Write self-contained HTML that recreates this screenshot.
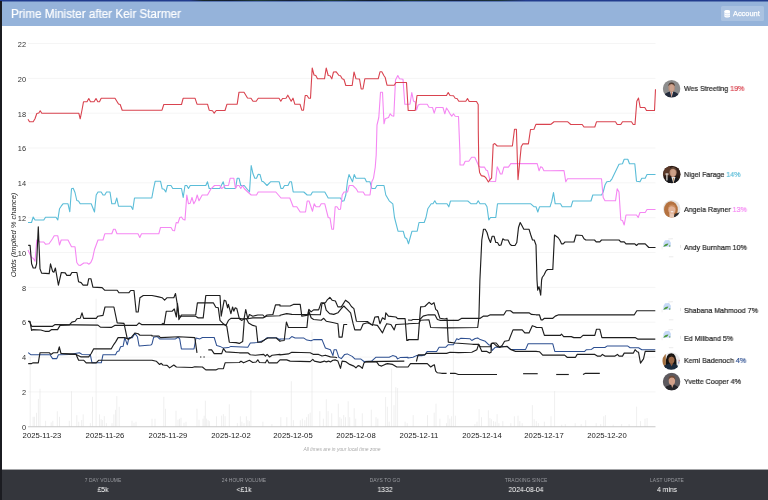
<!DOCTYPE html>
<html><head><meta charset="utf-8"><title>Prime Minister after Keir Starmer</title>
<style>
html,body{margin:0;padding:0;}
body{width:768px;height:500px;overflow:hidden;background:#fff;position:relative;font-family:"Liberation Sans",sans-serif;}
.abs{position:absolute}
.lg,.yl,.xl,#ytitle,#tz,#title,#acct span,.fl,.fv{will-change:transform;}
#topstrip{position:absolute;left:0;top:0;width:768px;height:2.4px;background:linear-gradient(#203a8c 0%,#223d8e 50%,#95b3da 100%);}
#hdr{position:absolute;left:0;top:2px;width:768px;height:24px;background:#95b3da;}
#lb{position:absolute;left:0;top:1px;width:2px;height:499px;background:#1b1c21;}
#title,#acct svg,#acct span,.fl,.fv{filter:blur(0.3px);}
#title{position:absolute;left:11px;top:7.1px;color:#fff;font-size:12px;line-height:14px;white-space:nowrap;transform:scaleX(0.973);transform-origin:left center;-webkit-text-stroke:0.2px #fff;}
#acct{position:absolute;left:720.5px;top:6.3px;width:43px;height:15.1px;background:rgba(255,255,255,0.2);border-radius:1.5px;}
#acct span{position:absolute;left:12.8px;top:3.2px;color:#fff;font-size:7.4px;line-height:9px;-webkit-text-stroke:0.25px #fff;}
.yl{position:absolute;left:0;width:26px;text-align:right;font-size:7.4px;line-height:10px;color:#333;}
.xl{position:absolute;top:431px;width:60px;text-align:center;font-size:7.7px;line-height:10px;color:#222;}
#ytitle{position:absolute;left:-36px;top:230px;width:100px;text-align:center;font-size:7.55px;line-height:10px;color:#222;font-style:italic;transform:rotate(-90deg);white-space:nowrap;}
.lg{position:absolute;left:684px;font-size:7.6px;line-height:12px;color:#1c1c1c;white-space:nowrap;-webkit-text-stroke:0.2px currentColor;transform:scaleX(0.93);transform-origin:left center;}
#tz{position:absolute;left:282px;top:445.5px;width:120px;text-align:center;font-size:4.92px;line-height:7px;color:#aaa;font-style:italic;}
#foot{position:absolute;left:0;top:470px;width:768px;height:30px;background:#34363c;}
.fc{position:absolute;top:0;width:120px;height:30px;text-align:center;}
.fl{position:absolute;left:0;width:120px;top:7px;font-size:4.9px;line-height:8px;color:#9a9ca1;letter-spacing:0.08px;}
.fv{position:absolute;left:0;width:120px;top:14px;font-size:7.5px;line-height:12px;color:#fff;transform:scaleX(0.91);}
</style></head><body>
<div id="hdr"></div><div id="topstrip"></div><div style="position:absolute;left:190px;top:0;width:335px;height:1.1px;background:linear-gradient(90deg,#22398a 0%,#16251e 4%,#101a2a 12%,#1c3a2a 20%,#131c33 30%,#1f3d30 42%,#0f1728 55%,#1b3526 66%,#141f3a 80%,#1a3328 92%,#22398a 100%);opacity:0.9"></div>
<div id="title">Prime Minister after Keir Starmer</div>
<div id="acct"><svg class="abs" style="left:3.3px;top:3.9px" width="6.6" height="7.6" viewBox="0 0 6 8" preserveAspectRatio="none"><path d="M0.3 1.4C0.3 0.6 1.5 0.1 3 0.1S5.7 0.6 5.7 1.4V6.5C5.7 7.3 4.5 7.9 3 7.9S0.3 7.3 0.3 6.5Z" fill="#fff"/><path d="M0.3 3.1C1 3.8 2 4 3 4S5 3.8 5.7 3.1M0.3 5.3C1 6 2 6.2 3 6.2S5 6 5.7 5.3" stroke="#a9c2e3" stroke-width="0.45" fill="none"/></svg><span>Account</span></div>
<div id="chart" style="position:absolute;left:0;top:0;width:768px;height:500px;filter:blur(0.33px)">
<div class="yl" style="top:423px">0</div><div class="yl" style="top:388px">2</div><div class="yl" style="top:353px">4</div><div class="yl" style="top:318px">6</div><div class="yl" style="top:284px">8</div><div class="yl" style="top:249px">10</div><div class="yl" style="top:214px">12</div><div class="yl" style="top:179px">14</div><div class="yl" style="top:144px">16</div><div class="yl" style="top:110px">18</div><div class="yl" style="top:75px">20</div><div class="yl" style="top:40px">22</div><div class="xl" style="left:12px">2025-11-23</div><div class="xl" style="left:75px">2025-11-26</div><div class="xl" style="left:138px">2025-11-29</div><div class="xl" style="left:201px">2025-12-02</div><div class="xl" style="left:263px">2025-12-05</div><div class="xl" style="left:326px">2025-12-08</div><div class="xl" style="left:389px">2025-12-11</div><div class="xl" style="left:452px">2025-12-14</div><div class="xl" style="left:514px">2025-12-17</div><div class="xl" style="left:577px">2025-12-20</div>
<div id="ytitle">Odds (Implied % chance)</div>
<svg class="abs" style="left:0;top:0" width="768" height="500" viewBox="0 0 768 500">
<line x1="28" x2="655.5" y1="391.91" y2="391.91" stroke="#f5f5f5" stroke-width="1"/>
<line x1="28" x2="655.5" y1="357.07" y2="357.07" stroke="#f5f5f5" stroke-width="1"/>
<line x1="28" x2="655.5" y1="322.23" y2="322.23" stroke="#f5f5f5" stroke-width="1"/>
<line x1="28" x2="655.5" y1="287.39" y2="287.39" stroke="#f5f5f5" stroke-width="1"/>
<line x1="28" x2="655.5" y1="252.55" y2="252.55" stroke="#f5f5f5" stroke-width="1"/>
<line x1="28" x2="655.5" y1="217.71" y2="217.71" stroke="#f5f5f5" stroke-width="1"/>
<line x1="28" x2="655.5" y1="182.87" y2="182.87" stroke="#f5f5f5" stroke-width="1"/>
<line x1="28" x2="655.5" y1="148.03" y2="148.03" stroke="#f5f5f5" stroke-width="1"/>
<line x1="28" x2="655.5" y1="113.19" y2="113.19" stroke="#f5f5f5" stroke-width="1"/>
<line x1="28" x2="655.5" y1="78.35" y2="78.35" stroke="#f5f5f5" stroke-width="1"/>
<line x1="28" x2="655.5" y1="43.51" y2="43.51" stroke="#f5f5f5" stroke-width="1"/>
<line x1="30.2" x2="30.2" y1="426.75" y2="356.8" stroke="#e4e4e4" stroke-width="0.6"/>
<line x1="33.1" x2="33.1" y1="426.75" y2="416.8" stroke="#e4e4e4" stroke-width="0.6"/>
<line x1="34.4" x2="34.4" y1="426.75" y2="416.8" stroke="#e4e4e4" stroke-width="0.6"/>
<line x1="36.5" x2="36.5" y1="426.75" y2="412.8" stroke="#e4e4e4" stroke-width="0.6"/>
<line x1="38.4" x2="38.4" y1="426.75" y2="399.2" stroke="#e4e4e4" stroke-width="0.6"/>
<line x1="40.0" x2="40.0" y1="426.75" y2="388.8" stroke="#e4e4e4" stroke-width="0.6"/>
<line x1="45.6" x2="45.6" y1="426.75" y2="420.8" stroke="#e4e4e4" stroke-width="0.6"/>
<line x1="51.2" x2="51.2" y1="426.75" y2="422.4" stroke="#e4e4e4" stroke-width="0.6"/>
<line x1="52.8" x2="52.8" y1="426.75" y2="420.8" stroke="#e4e4e4" stroke-width="0.6"/>
<line x1="57.3" x2="57.3" y1="426.75" y2="411.2" stroke="#e4e4e4" stroke-width="0.6"/>
<line x1="59.5" x2="59.5" y1="426.75" y2="416.8" stroke="#e4e4e4" stroke-width="0.6"/>
<line x1="69.3" x2="69.3" y1="426.75" y2="420.8" stroke="#e4e4e4" stroke-width="0.6"/>
<line x1="71.5" x2="71.5" y1="426.75" y2="391.2" stroke="#e4e4e4" stroke-width="0.6"/>
<line x1="76.8" x2="76.8" y1="426.75" y2="415.2" stroke="#e4e4e4" stroke-width="0.6"/>
<line x1="78.7" x2="78.7" y1="426.75" y2="421.8" stroke="#e4e4e4" stroke-width="0.6"/>
<line x1="81.6" x2="81.6" y1="426.75" y2="420.1" stroke="#e4e4e4" stroke-width="0.6"/>
<line x1="83.2" x2="83.2" y1="426.75" y2="414.4" stroke="#e4e4e4" stroke-width="0.6"/>
<line x1="90.4" x2="90.4" y1="426.75" y2="423.2" stroke="#e4e4e4" stroke-width="0.6"/>
<line x1="92.5" x2="92.5" y1="426.75" y2="396.8" stroke="#e4e4e4" stroke-width="0.6"/>
<line x1="96.1" x2="96.1" y1="426.75" y2="298.8" stroke="#e4e4e4" stroke-width="0.6"/>
<line x1="99.5" x2="99.5" y1="426.75" y2="414.4" stroke="#e4e4e4" stroke-width="0.6"/>
<line x1="101.1" x2="101.1" y1="426.75" y2="419.2" stroke="#e4e4e4" stroke-width="0.6"/>
<line x1="102.4" x2="102.4" y1="426.75" y2="420.1" stroke="#e4e4e4" stroke-width="0.6"/>
<line x1="104.3" x2="104.3" y1="426.75" y2="416.1" stroke="#e4e4e4" stroke-width="0.6"/>
<line x1="106.4" x2="106.4" y1="426.75" y2="423.2" stroke="#e4e4e4" stroke-width="0.6"/>
<line x1="112.0" x2="112.0" y1="426.75" y2="423.2" stroke="#e4e4e4" stroke-width="0.6"/>
<line x1="113.9" x2="113.9" y1="426.75" y2="414.4" stroke="#e4e4e4" stroke-width="0.6"/>
<line x1="115.5" x2="115.5" y1="426.75" y2="409.8" stroke="#e4e4e4" stroke-width="0.6"/>
<line x1="116.8" x2="116.8" y1="426.75" y2="396.1" stroke="#e4e4e4" stroke-width="0.6"/>
<line x1="119.2" x2="119.2" y1="426.75" y2="406.8" stroke="#e4e4e4" stroke-width="0.6"/>
<line x1="132.0" x2="132.0" y1="426.75" y2="420.8" stroke="#e4e4e4" stroke-width="0.6"/>
<line x1="134.0" x2="134.0" y1="426.75" y2="422.8" stroke="#e4e4e4" stroke-width="0.6"/>
<line x1="136.0" x2="136.0" y1="426.75" y2="421.8" stroke="#e4e4e4" stroke-width="0.6"/>
<line x1="152.0" x2="152.0" y1="426.75" y2="418.8" stroke="#e4e4e4" stroke-width="0.6"/>
<line x1="155.0" x2="155.0" y1="426.75" y2="418.8" stroke="#e4e4e4" stroke-width="0.6"/>
<line x1="163.8" x2="163.8" y1="426.75" y2="396.8" stroke="#e4e4e4" stroke-width="0.6"/>
<line x1="165.5" x2="165.5" y1="426.75" y2="408.8" stroke="#e4e4e4" stroke-width="0.6"/>
<line x1="176.0" x2="176.0" y1="426.75" y2="410.8" stroke="#e4e4e4" stroke-width="0.6"/>
<line x1="178.0" x2="178.0" y1="426.75" y2="419.8" stroke="#e4e4e4" stroke-width="0.6"/>
<line x1="179.5" x2="179.5" y1="426.75" y2="418.8" stroke="#e4e4e4" stroke-width="0.6"/>
<line x1="181.0" x2="181.0" y1="426.75" y2="417.8" stroke="#e4e4e4" stroke-width="0.6"/>
<line x1="184.0" x2="184.0" y1="426.75" y2="422.8" stroke="#e4e4e4" stroke-width="0.6"/>
<line x1="186.0" x2="186.0" y1="426.75" y2="421.8" stroke="#e4e4e4" stroke-width="0.6"/>
<line x1="197.0" x2="197.0" y1="426.75" y2="408.8" stroke="#e4e4e4" stroke-width="0.6"/>
<line x1="199.0" x2="199.0" y1="426.75" y2="419.8" stroke="#e4e4e4" stroke-width="0.6"/>
<line x1="203.0" x2="203.0" y1="426.75" y2="418.7" stroke="#e4e4e4" stroke-width="0.6"/>
<line x1="204.2" x2="204.2" y1="426.75" y2="415.7" stroke="#e4e4e4" stroke-width="0.6"/>
<line x1="205.4" x2="205.4" y1="426.75" y2="400.7" stroke="#e4e4e4" stroke-width="0.6"/>
<line x1="206.6" x2="206.6" y1="426.75" y2="418.7" stroke="#e4e4e4" stroke-width="0.6"/>
<line x1="208.1" x2="208.1" y1="426.75" y2="420.2" stroke="#e4e4e4" stroke-width="0.6"/>
<line x1="209.3" x2="209.3" y1="426.75" y2="421.1" stroke="#e4e4e4" stroke-width="0.6"/>
<line x1="216.5" x2="216.5" y1="426.75" y2="416.3" stroke="#e4e4e4" stroke-width="0.6"/>
<line x1="221.6" x2="221.6" y1="426.75" y2="415.7" stroke="#e4e4e4" stroke-width="0.6"/>
<line x1="223.4" x2="223.4" y1="426.75" y2="414.2" stroke="#e4e4e4" stroke-width="0.6"/>
<line x1="225.1" x2="225.1" y1="426.75" y2="416.3" stroke="#e4e4e4" stroke-width="0.6"/>
<line x1="229.3" x2="229.3" y1="426.75" y2="404.3" stroke="#e4e4e4" stroke-width="0.6"/>
<line x1="237.4" x2="237.4" y1="426.75" y2="423.2" stroke="#e4e4e4" stroke-width="0.6"/>
<line x1="240.4" x2="240.4" y1="426.75" y2="416.3" stroke="#e4e4e4" stroke-width="0.6"/>
<line x1="241.9" x2="241.9" y1="426.75" y2="421.7" stroke="#e4e4e4" stroke-width="0.6"/>
<line x1="244.0" x2="244.0" y1="426.75" y2="423.2" stroke="#e4e4e4" stroke-width="0.6"/>
<line x1="246.4" x2="246.4" y1="426.75" y2="416.3" stroke="#e4e4e4" stroke-width="0.6"/>
<line x1="247.9" x2="247.9" y1="426.75" y2="420.2" stroke="#e4e4e4" stroke-width="0.6"/>
<line x1="249.4" x2="249.4" y1="426.75" y2="421.1" stroke="#e4e4e4" stroke-width="0.6"/>
<line x1="250.9" x2="250.9" y1="426.75" y2="390.2" stroke="#e4e4e4" stroke-width="0.6"/>
<line x1="262.9" x2="262.9" y1="426.75" y2="421.7" stroke="#e4e4e4" stroke-width="0.6"/>
<line x1="271.9" x2="271.9" y1="426.75" y2="424.1" stroke="#e4e4e4" stroke-width="0.6"/>
<line x1="280.8" x2="280.8" y1="426.75" y2="417.2" stroke="#e4e4e4" stroke-width="0.6"/>
<line x1="286.8" x2="286.8" y1="426.75" y2="417.2" stroke="#e4e4e4" stroke-width="0.6"/>
<line x1="291.3" x2="291.3" y1="426.75" y2="381.2" stroke="#e4e4e4" stroke-width="0.6"/>
<line x1="293.4" x2="293.4" y1="426.75" y2="420.2" stroke="#e4e4e4" stroke-width="0.6"/>
<line x1="300.3" x2="300.3" y1="426.75" y2="420.2" stroke="#e4e4e4" stroke-width="0.6"/>
<line x1="302.4" x2="302.4" y1="426.75" y2="418.7" stroke="#e4e4e4" stroke-width="0.6"/>
<line x1="304.8" x2="304.8" y1="426.75" y2="420.2" stroke="#e4e4e4" stroke-width="0.6"/>
<line x1="306.6" x2="306.6" y1="426.75" y2="417.2" stroke="#e4e4e4" stroke-width="0.6"/>
<line x1="308.4" x2="308.4" y1="426.75" y2="414.2" stroke="#e4e4e4" stroke-width="0.6"/>
<line x1="310.2" x2="310.2" y1="426.75" y2="412.7" stroke="#e4e4e4" stroke-width="0.6"/>
<line x1="312.0" x2="312.0" y1="426.75" y2="331.8" stroke="#e4e4e4" stroke-width="0.6"/>
<line x1="319.8" x2="319.8" y1="426.75" y2="411.2" stroke="#e4e4e4" stroke-width="0.6"/>
<line x1="323.4" x2="323.4" y1="426.75" y2="418.7" stroke="#e4e4e4" stroke-width="0.6"/>
<line x1="326.3" x2="326.3" y1="426.75" y2="399.2" stroke="#e4e4e4" stroke-width="0.6"/>
<line x1="328.1" x2="328.1" y1="426.75" y2="411.2" stroke="#e4e4e4" stroke-width="0.6"/>
<line x1="331.7" x2="331.7" y1="426.75" y2="413.3" stroke="#e4e4e4" stroke-width="0.6"/>
<line x1="338.3" x2="338.3" y1="426.75" y2="403.7" stroke="#e4e4e4" stroke-width="0.6"/>
<line x1="339.8" x2="339.8" y1="426.75" y2="417.2" stroke="#e4e4e4" stroke-width="0.6"/>
<line x1="341.3" x2="341.3" y1="426.75" y2="418.7" stroke="#e4e4e4" stroke-width="0.6"/>
<line x1="343.7" x2="343.7" y1="426.75" y2="415.1" stroke="#e4e4e4" stroke-width="0.6"/>
<line x1="345.5" x2="345.5" y1="426.75" y2="417.2" stroke="#e4e4e4" stroke-width="0.6"/>
<line x1="348.2" x2="348.2" y1="426.75" y2="401.3" stroke="#e4e4e4" stroke-width="0.6"/>
<line x1="349.7" x2="349.7" y1="426.75" y2="417.2" stroke="#e4e4e4" stroke-width="0.6"/>
<line x1="354.2" x2="354.2" y1="426.75" y2="408.2" stroke="#e4e4e4" stroke-width="0.6"/>
<line x1="355.7" x2="355.7" y1="426.75" y2="418.7" stroke="#e4e4e4" stroke-width="0.6"/>
<line x1="362.3" x2="362.3" y1="426.75" y2="413.3" stroke="#e4e4e4" stroke-width="0.6"/>
<line x1="371.3" x2="371.3" y1="426.75" y2="409.7" stroke="#e4e4e4" stroke-width="0.6"/>
<line x1="376.0" x2="376.0" y1="426.75" y2="417.2" stroke="#e4e4e4" stroke-width="0.6"/>
<line x1="377.8" x2="377.8" y1="426.75" y2="418.7" stroke="#e4e4e4" stroke-width="0.6"/>
<line x1="385.6" x2="385.6" y1="426.75" y2="397.1" stroke="#e4e4e4" stroke-width="0.6"/>
<line x1="387.4" x2="387.4" y1="426.75" y2="406.7" stroke="#e4e4e4" stroke-width="0.6"/>
<line x1="389.2" x2="389.2" y1="426.75" y2="421.7" stroke="#e4e4e4" stroke-width="0.6"/>
<line x1="391.6" x2="391.6" y1="426.75" y2="368.7" stroke="#e4e4e4" stroke-width="0.6"/>
<line x1="394.0" x2="394.0" y1="426.75" y2="405.2" stroke="#e4e4e4" stroke-width="0.6"/>
<line x1="395.8" x2="395.8" y1="426.75" y2="387.2" stroke="#e4e4e4" stroke-width="0.6"/>
<line x1="397.6" x2="397.6" y1="426.75" y2="388.1" stroke="#e4e4e4" stroke-width="0.6"/>
<line x1="405.1" x2="405.1" y1="426.75" y2="421.7" stroke="#e4e4e4" stroke-width="0.6"/>
<line x1="407.2" x2="407.2" y1="426.75" y2="423.2" stroke="#e4e4e4" stroke-width="0.6"/>
<line x1="413.2" x2="413.2" y1="426.75" y2="415.1" stroke="#e4e4e4" stroke-width="0.6"/>
<line x1="427.5" x2="427.5" y1="426.75" y2="415.1" stroke="#e4e4e4" stroke-width="0.6"/>
<line x1="434.2" x2="434.2" y1="426.75" y2="412.7" stroke="#e4e4e4" stroke-width="0.6"/>
<line x1="436.0" x2="436.0" y1="426.75" y2="403.7" stroke="#e4e4e4" stroke-width="0.6"/>
<line x1="439.9" x2="439.9" y1="426.75" y2="418.7" stroke="#e4e4e4" stroke-width="0.6"/>
<line x1="446.5" x2="446.5" y1="426.75" y2="423.2" stroke="#e4e4e4" stroke-width="0.6"/>
<line x1="448.0" x2="448.0" y1="426.75" y2="415.1" stroke="#e4e4e4" stroke-width="0.6"/>
<line x1="449.8" x2="449.8" y1="426.75" y2="418.7" stroke="#e4e4e4" stroke-width="0.6"/>
<line x1="451.6" x2="451.6" y1="426.75" y2="416.3" stroke="#e4e4e4" stroke-width="0.6"/>
<line x1="453.4" x2="453.4" y1="426.75" y2="318.7" stroke="#e4e4e4" stroke-width="0.6"/>
<line x1="455.4" x2="455.4" y1="426.75" y2="415.7" stroke="#e4e4e4" stroke-width="0.6"/>
<line x1="474.9" x2="474.9" y1="426.75" y2="424.1" stroke="#e4e4e4" stroke-width="0.6"/>
<line x1="477.0" x2="477.0" y1="426.75" y2="421.7" stroke="#e4e4e4" stroke-width="0.6"/>
<line x1="479.1" x2="479.1" y1="426.75" y2="409.1" stroke="#e4e4e4" stroke-width="0.6"/>
<line x1="481.5" x2="481.5" y1="426.75" y2="417.2" stroke="#e4e4e4" stroke-width="0.6"/>
<line x1="488.4" x2="488.4" y1="426.75" y2="410.3" stroke="#e4e4e4" stroke-width="0.6"/>
<line x1="489.9" x2="489.9" y1="426.75" y2="418.1" stroke="#e4e4e4" stroke-width="0.6"/>
<line x1="491.4" x2="491.4" y1="426.75" y2="419.3" stroke="#e4e4e4" stroke-width="0.6"/>
<line x1="493.5" x2="493.5" y1="426.75" y2="421.1" stroke="#e4e4e4" stroke-width="0.6"/>
<line x1="495.3" x2="495.3" y1="426.75" y2="421.7" stroke="#e4e4e4" stroke-width="0.6"/>
<line x1="497.1" x2="497.1" y1="426.75" y2="414.2" stroke="#e4e4e4" stroke-width="0.6"/>
<line x1="498.9" x2="498.9" y1="426.75" y2="423.2" stroke="#e4e4e4" stroke-width="0.6"/>
<line x1="502.8" x2="502.8" y1="426.75" y2="421.1" stroke="#e4e4e4" stroke-width="0.6"/>
<line x1="510.8" x2="510.8" y1="426.75" y2="423.2" stroke="#e4e4e4" stroke-width="0.6"/>
<line x1="514.4" x2="514.4" y1="426.75" y2="416.3" stroke="#e4e4e4" stroke-width="0.6"/>
<line x1="518.0" x2="518.0" y1="426.75" y2="415.7" stroke="#e4e4e4" stroke-width="0.6"/>
<line x1="519.8" x2="519.8" y1="426.75" y2="421.1" stroke="#e4e4e4" stroke-width="0.6"/>
<line x1="522.2" x2="522.2" y1="426.75" y2="423.2" stroke="#e4e4e4" stroke-width="0.6"/>
<line x1="532.4" x2="532.4" y1="426.75" y2="405.2" stroke="#e4e4e4" stroke-width="0.6"/>
<line x1="534.2" x2="534.2" y1="426.75" y2="419.3" stroke="#e4e4e4" stroke-width="0.6"/>
<line x1="536.3" x2="536.3" y1="426.75" y2="421.1" stroke="#e4e4e4" stroke-width="0.6"/>
<line x1="538.4" x2="538.4" y1="426.75" y2="423.2" stroke="#e4e4e4" stroke-width="0.6"/>
<line x1="544.4" x2="544.4" y1="426.75" y2="421.7" stroke="#e4e4e4" stroke-width="0.6"/>
<line x1="551.0" x2="551.0" y1="426.75" y2="416.3" stroke="#e4e4e4" stroke-width="0.6"/>
<line x1="554.6" x2="554.6" y1="426.75" y2="391.1" stroke="#e4e4e4" stroke-width="0.6"/>
<line x1="561.7" x2="561.7" y1="426.75" y2="424.7" stroke="#e4e4e4" stroke-width="0.6"/>
<line x1="565.3" x2="565.3" y1="426.75" y2="424.1" stroke="#e4e4e4" stroke-width="0.6"/>
<line x1="575.2" x2="575.2" y1="426.75" y2="423.2" stroke="#e4e4e4" stroke-width="0.6"/>
<line x1="581.2" x2="581.2" y1="426.75" y2="424.1" stroke="#e4e4e4" stroke-width="0.6"/>
<line x1="585.7" x2="585.7" y1="426.75" y2="420.2" stroke="#e4e4e4" stroke-width="0.6"/>
<line x1="596.2" x2="596.2" y1="426.75" y2="423.2" stroke="#e4e4e4" stroke-width="0.6"/>
<line x1="600.7" x2="600.7" y1="426.75" y2="424.1" stroke="#e4e4e4" stroke-width="0.6"/>
<line x1="603.7" x2="603.7" y1="426.75" y2="416.3" stroke="#e4e4e4" stroke-width="0.6"/>
<line x1="605.4" x2="605.4" y1="426.75" y2="415.1" stroke="#e4e4e4" stroke-width="0.6"/>
<line x1="613.2" x2="613.2" y1="426.75" y2="424.7" stroke="#e4e4e4" stroke-width="0.6"/>
<line x1="621.6" x2="621.6" y1="426.75" y2="424.1" stroke="#e4e4e4" stroke-width="0.6"/>
<line x1="629.1" x2="629.1" y1="426.75" y2="424.1" stroke="#e4e4e4" stroke-width="0.6"/>
<line x1="636.6" x2="636.6" y1="426.75" y2="406.7" stroke="#e4e4e4" stroke-width="0.6"/>
<line x1="640.5" x2="640.5" y1="426.75" y2="421.1" stroke="#e4e4e4" stroke-width="0.6"/>
<line x1="645.0" x2="645.0" y1="426.75" y2="418.7" stroke="#e4e4e4" stroke-width="0.6"/>
<line x1="647.1" x2="647.1" y1="426.75" y2="418.1" stroke="#e4e4e4" stroke-width="0.6"/>
<line x1="28" x2="655.5" y1="426.75" y2="426.75" stroke="#c8c8c8" stroke-width="1"/>
<polyline points="28.0,222.5 31.5,222.5 33.2,217.0 35.0,220.0 43.8,220.0 45.5,217.2 56.0,217.2 57.8,220.0 59.5,208.8 61.2,206.2 63.0,203.8 68.0,203.8 69.8,211.8 71.5,188.8 73.2,188.2 75.0,192.5 76.8,200.5 78.5,201.0 80.2,203.8 91.2,203.8 94.5,212.0 96.2,195.0 98.0,192.0 101.2,192.0 103.0,195.0 104.8,195.0 106.5,192.0 110.0,192.0 111.8,203.8 115.0,203.8 116.8,198.0 118.5,206.2 131.0,206.2 132.8,209.5 134.5,198.0 151.8,198.0 153.5,188.8 155.2,181.2 160.5,181.2 162.2,188.8 164.0,189.2 165.8,192.0 167.5,185.5 171.0,185.5 172.8,188.5 181.5,188.5 183.2,197.5 185.0,185.5 186.8,185.5 188.5,188.5 190.2,185.5 192.0,185.5 205.8,185.5 207.5,181.8 209.2,188.5 219.8,188.5 223.2,181.8 225.0,188.5 235.5,188.5 237.2,178.2 239.0,178.2 240.8,185.5 244.2,185.5 249.5,192.0 251.2,165.5 253.0,173.8 254.8,178.2 256.5,178.2 258.2,174.2 260.0,174.5 261.8,181.2 263.5,181.8 267.0,185.5 270.5,181.8 279.2,181.8 281.0,188.5 282.8,188.5 284.5,185.5 288.0,185.5 289.8,181.8 291.5,181.8 293.2,192.0 303.8,192.0 307.2,195.0 310.8,195.0 312.5,192.0 324.8,192.0 328.2,198.0 340.5,198.0 342.2,201.2 344.0,200.8 345.8,195.0 347.5,181.2 349.0,174.5 350.8,178.2 352.5,181.8 354.2,174.5 356.0,178.2 364.8,178.2 366.5,181.8 370.0,181.8 371.8,188.5 375.2,188.5 377.0,185.5 384.0,185.5 385.8,195.0 389.2,200.8 392.8,203.8 394.5,217.5 398.0,231.2 403.2,231.2 405.0,237.5 406.8,238.8 408.5,243.8 410.2,237.5 412.0,231.2 417.2,231.2 419.0,222.5 424.2,222.5 426.0,217.5 427.8,208.8 431.2,203.8 433.0,203.8 434.8,200.8 436.5,203.8 447.0,203.8 448.8,206.8 450.5,201.0 467.8,201.0 471.2,203.8 476.5,203.8 478.2,200.8 480.0,203.8 485.2,203.8 487.0,206.8 488.8,220.0 490.5,217.5 495.8,217.5 497.5,203.8 530.8,203.8 534.2,206.8 536.0,206.8 537.8,212.0 539.5,206.8 550.0,206.8 551.8,201.2 553.5,192.5 555.2,203.8 560.5,203.8 562.2,206.8 571.0,206.8 572.8,201.0 576.0,201.0 591.0,201.0 592.8,195.0 601.5,195.0 603.2,192.0 605.0,185.0 606.8,181.8 610.2,181.2 612.0,178.8 619.0,164.2 622.5,163.8 624.2,159.2 627.8,159.2 629.5,163.8 634.8,163.8 636.5,181.2 640.0,181.8 641.8,178.2 645.2,178.2 647.0,174.5 655.5,174.5" fill="none" stroke="#5bbdd8" stroke-width="1.1" stroke-linejoin="round" stroke-linecap="butt"/>
<polyline points="28.0,250.0 31.5,257.5 33.2,258.2 35.0,261.2 36.8,240.0 40.0,242.0 43.8,242.0 45.5,244.2 49.0,243.8 50.8,241.2 52.5,238.8 54.2,235.8 57.8,235.8 59.5,245.0 61.2,240.0 68.0,240.0 71.5,246.8 75.0,246.8 76.8,262.5 78.5,265.0 80.2,265.5 83.8,263.0 87.2,263.0 89.0,264.2 90.8,262.5 92.5,258.8 94.5,249.5 98.0,240.0 103.0,240.0 104.8,233.8 111.8,233.8 113.5,229.2 115.2,229.2 117.0,233.8 138.0,233.8 139.8,237.5 141.5,233.8 158.8,233.8 160.5,227.5 171.0,227.5 172.8,230.5 174.5,230.8 176.2,222.5 178.0,223.0 179.8,217.5 181.5,217.0 183.2,219.5 185.0,220.0 186.8,195.0 188.5,203.8 190.2,203.2 192.0,197.5 193.8,203.8 195.5,200.8 197.2,195.0 199.0,200.8 202.2,195.0 207.5,195.0 211.0,188.8 214.5,185.5 219.8,185.5 221.5,188.5 223.2,187.5 225.0,185.5 228.5,185.5 230.2,178.2 233.8,178.2 235.5,188.5 237.2,185.5 239.0,185.5 240.8,188.5 242.5,185.5 244.2,188.5 247.8,192.0 251.2,195.0 256.5,195.0 258.2,192.0 275.8,192.0 281.0,198.0 289.8,198.0 293.2,206.8 296.8,206.8 300.2,212.0 305.5,212.0 307.2,201.0 309.0,201.0 312.5,211.2 314.2,203.8 316.0,206.8 319.5,206.8 321.2,203.8 324.8,203.8 328.2,217.5 330.0,218.0 331.8,229.2 333.5,229.2 335.2,206.8 337.0,206.8 338.8,209.5 340.5,209.2 342.2,195.0 344.0,192.0 347.5,192.0 349.2,185.5 352.8,185.5 356.2,188.8 358.0,192.0 363.2,192.0 365.0,195.0 370.0,195.0 371.8,181.8 373.5,178.2 375.2,167.5 376.2,155.0 377.0,125.0 378.8,117.5 380.5,92.2 382.5,92.2 384.0,123.8 385.2,118.8 388.5,117.5 390.2,113.8 392.0,115.8 393.8,116.2 395.5,80.0 397.8,75.5 399.5,78.8 403.0,79.2 404.8,104.2 410.0,104.2 411.8,92.5 413.5,101.2 415.2,101.8 416.5,110.0 418.2,105.0 420.2,104.2 427.2,104.2 429.0,107.2 432.5,107.5 434.2,113.2 436.0,107.5 443.0,107.5 444.8,113.8 446.5,108.0 448.2,110.5 450.0,113.8 451.8,116.2 453.5,113.8 455.2,116.2 458.5,116.5 460.0,155.0 460.0,165.0 463.5,165.0 465.2,161.2 468.8,161.2 471.6,157.2 474.8,157.2 478.8,166.0 480.4,167.1 484.4,167.1 486.0,170.0 487.6,170.8 489.2,177.2 490.0,181.2 495.6,181.5 497.2,166.8 498.8,170.0 500.4,174.0 502.0,174.0 503.9,167.1 508.4,167.1 510.8,163.6 537.2,163.6 539.1,170.8 540.7,166.8 542.3,167.6 543.9,170.8 550.0,170.8 564.0,170.5 565.8,181.8 567.5,178.8 576.0,178.8 601.5,178.8 603.2,197.5 605.0,200.8 615.5,200.8 617.2,188.8 619.0,192.0 620.8,220.0 622.5,220.5 624.2,225.0 626.0,215.0 636.5,215.0 638.2,217.5 640.0,212.5 645.2,212.5 647.0,209.5 655.5,209.5" fill="none" stroke="#f587f3" stroke-width="1.1" stroke-linejoin="round" stroke-linecap="butt"/>
<polyline points="28.0,119.2 29.5,121.8 33.2,121.8 35.0,118.8 36.8,113.5 38.8,113.0 40.2,110.8 41.8,113.2 78.8,113.2 80.2,118.8 82.0,110.0 83.5,101.8 87.0,101.8 88.8,98.5 90.5,101.8 94.0,101.8 96.0,98.5 97.8,101.8 99.5,101.8 101.2,98.2 115.0,98.2 118.5,104.0 120.2,104.5 122.2,110.2 162.0,110.2 163.8,104.5 181.5,104.5 183.2,98.2 192.0,98.2 195.0,98.2 197.0,104.2 207.5,104.2 209.2,110.2 212.5,110.8 214.2,113.2 216.2,110.5 225.0,110.5 227.0,104.2 237.2,104.2 239.0,92.2 244.0,92.2 247.5,98.0 251.0,98.2 253.0,101.2 256.2,101.2 258.2,98.2 279.0,98.2 280.8,101.2 282.5,98.5 286.0,98.2 287.8,95.2 291.2,101.2 293.0,98.2 294.8,104.2 300.0,104.2 301.8,110.2 303.5,110.2 305.2,95.5 307.0,95.5 308.8,98.2 310.5,98.2 312.2,68.0 314.0,75.0 315.8,75.5 317.5,78.8 324.5,78.8 326.2,68.0 328.2,75.5 330.0,75.8 331.8,78.8 333.5,72.0 336.2,71.8 339.0,75.5 340.5,75.8 342.2,78.8 344.0,79.5 345.8,85.5 352.2,85.5 354.0,72.0 356.0,78.8 359.5,79.0 361.2,89.0 363.0,89.0 364.8,78.8 378.2,78.8 380.0,71.8 381.8,71.8 384.0,75.8 385.2,77.5 387.0,85.2 394.2,85.2 396.0,82.5 406.5,82.5 408.2,110.5 415.2,110.5 417.0,95.5 446.5,95.5 448.2,92.5 450.0,95.5 453.5,95.8 455.2,98.2 457.0,98.5 458.8,101.2 465.8,101.2 467.5,98.5 469.2,101.5 476.5,101.5 478.2,104.5 478.3,130.8 478.8,166.0 479.6,172.4 481.2,175.6 484.4,176.4 486.0,178.0 488.4,182.0 490.0,179.6 491.6,178.0 493.2,144.4 494.8,143.6 497.2,146.0 512.4,146.0 514.5,129.2 516.4,129.2 518.0,179.6 521.2,146.8 522.8,143.9 528.4,143.9 530.5,129.5 534.0,129.2 535.9,124.4 550.0,124.4 551.0,124.2 554.0,121.8 567.8,121.8 570.8,124.5 576.0,124.5 582.2,124.5 584.0,127.0 594.8,127.0 596.5,121.8 615.5,121.8 617.2,124.5 620.8,124.5 622.5,121.8 631.5,121.8 633.2,124.5 635.0,124.5 636.8,101.2 638.5,98.0 640.2,107.5 644.8,107.5 646.5,110.5 654.5,110.5 655.5,89.2" fill="none" stroke="#d9434f" stroke-width="1.1" stroke-linejoin="round" stroke-linecap="butt"/>
<polyline points="28.2,352.7 30.7,354.7 50.0,354.7 52.6,358.6 56.8,358.6 58.4,354.7 69.4,354.4 79.4,352.7 82.0,354.4 90.3,354.7 92.0,362.8 101.3,362.8 103.0,354.7 115.5,354.7 117.2,351.5 118.9,351.0 120.6,346.8 123.1,346.3 124.8,337.6 127.3,344.8 129.0,337.6 132.3,337.6 134.9,333.4 137.4,336.7 139.1,346.0 150.8,345.1 152.0,343.9 153.7,337.2 157.0,336.4 159.6,338.9 175.5,338.9 178.0,337.2 179.7,338.9 181.4,348.9 194.0,348.9 196.0,338.0 199.9,338.9 202.4,337.5 214.2,337.5 216.7,345.6 220.0,346.4 223.4,348.1 228.4,347.6 230.9,346.4 247.8,347.3 250.3,343.1 257.0,342.6 263.7,340.6 267.1,337.7 276.3,337.7 280.0,339.7 280.0,339.1 289.2,338.8 291.8,336.6 295.1,337.9 303.5,337.9 306.9,340.1 311.1,340.8 313.6,339.6 322.0,339.6 325.4,348.0 330.4,349.7 332.9,355.6 334.1,349.7 336.3,349.7 338.8,357.3 341.3,358.6 344.7,354.4 347.2,353.9 352.2,356.4 354.8,358.9 360.6,358.9 364.0,361.5 371.6,361.1 375.8,357.3 389.2,357.3 392.6,355.6 395.9,356.4 397.6,358.9 400.1,357.6 408.0,357.3 408.0,358.1 413.0,357.3 416.4,355.6 422.3,355.6 424.8,354.8 427.3,351.4 436.6,351.4 439.1,347.2 445.8,347.2 448.3,344.7 453.4,344.7 456.7,338.8 458.4,339.6 460.9,338.3 470.1,338.8 471.8,340.5 475.2,338.5 477.7,337.9 480.2,339.6 485.3,341.3 488.6,344.7 491.1,345.5 492.0,350.6 495.4,347.2 499.6,347.2 501.2,346.4 507.1,346.4 510.5,349.4 525.6,349.4 528.1,343.8 536.0,343.8 536.0,343.8 552.8,343.8 554.8,351.4 584.7,351.4 586.4,349.7 591.4,349.4 594.0,347.5 604.9,347.5 607.4,345.9 627.5,345.9 630.1,347.7 638.5,347.7 641.8,349.7 655.3,349.7" fill="none" stroke="#2d4f91" stroke-width="1.05" stroke-linejoin="round" stroke-linecap="butt"/>
<polyline points="28.2,245.4 30.1,245.4 31.6,263.8 33.2,268.0 35.4,268.0 36.6,263.8 38.3,226.9 40.0,268.9 41.6,273.1 49.2,273.6 50.5,263.8 52.6,271.4 53.9,272.2 55.4,268.0 58.4,285.1 61.3,272.5 65.2,272.9 66.8,275.4 70.2,275.4 71.9,272.5 76.9,272.5 78.6,281.8 81.1,282.6 83.1,285.1 87.5,285.1 88.7,278.7 90.9,278.7 92.9,287.1 102.1,287.6 104.6,290.2 117.2,290.2 118.9,292.7 129.0,292.7 130.7,290.5 134.0,290.5 136.2,312.0 138.2,312.0 139.9,297.7 143.3,295.5 152.0,295.5 158.7,296.9 162.1,297.7 164.6,300.2 167.1,297.7 173.8,297.7 175.5,293.5 177.2,303.6 178.9,315.4 180.6,317.0 181.4,315.0 195.7,315.0 197.4,302.8 213.3,302.8 215.8,307.3 218.3,307.8 220.0,320.4 223.4,323.8 225.9,325.4 228.4,320.4 230.9,318.4 239.3,318.4 241.9,318.7 247.8,318.7 252.8,317.9 262.9,317.9 266.2,316.2 280.0,315.7 280.0,315.3 286.7,313.6 291.8,314.4 320.3,314.8 322.0,303.5 324.5,303.5 326.2,310.2 329.6,313.6 333.8,314.4 337.9,312.8 341.3,308.6 343.8,306.0 347.2,309.4 350.6,312.8 353.1,323.7 354.8,329.9 360.6,329.9 363.1,324.0 367.4,322.8 371.6,324.5 377.4,325.4 382.5,332.9 385.0,327.0 386.7,323.7 390.9,324.5 394.2,329.9 395.9,324.5 405.1,324.0 408.0,324.0 408.0,323.7 418.9,323.3 420.6,320.3 429.0,319.8 430.7,327.5 447.5,327.9 477.7,327.5 478.9,317.8 479.9,280.0 481.8,240.0 483.5,229.2 485.2,229.2 487.0,232.5 488.8,238.8 490.5,242.5 492.2,236.2 494.0,236.2 495.8,242.5 497.5,242.5 499.2,245.5 501.0,245.0 502.8,238.8 504.5,240.0 508.0,240.0 509.8,243.8 511.5,245.5 515.0,245.5 516.8,242.5 518.5,227.5 520.2,222.5 522.0,225.8 523.8,229.2 529.0,229.2 530.8,235.0 532.5,240.0 534.2,240.0 536.0,245.0 537.0,280.0 537.7,290.1 539.0,286.7 540.7,295.1 541.6,280.0 542.2,277.5 544.0,275.0 545.8,271.2 547.5,269.5 552.8,269.5 554.5,235.0 556.2,236.2 558.0,237.5 559.8,240.0 561.5,243.8 563.2,243.8 565.0,242.0 574.0,242.0 576.0,235.0 582.2,235.5 584.0,238.8 585.8,240.0 594.5,240.0 596.2,241.8 599.8,241.8 601.5,240.0 619.0,240.0 620.8,241.8 624.2,241.8 626.0,243.8 634.8,243.8 636.5,245.5 638.2,243.8 645.2,243.8 648.8,247.5 655.5,247.5" fill="none" stroke="#1e1e1e" stroke-width="1.15" stroke-linejoin="round" stroke-linecap="butt"/>
<polyline points="28.2,321.2 29.9,321.2 31.6,330.5 32.7,329.6 40.8,330.0 45.0,331.3 49.2,331.3 51.7,329.6 57.6,329.6 60.1,325.4 69.4,324.9 71.9,322.1 75.2,321.2 76.9,318.7 80.3,318.2 82.0,312.8 83.6,318.4 96.2,318.4 97.9,316.2 103.0,315.4 105.0,307.0 113.9,307.0 117.2,322.9 124.0,323.4 127.3,338.9 129.0,338.9 131.5,337.2 134.9,333.0 138.2,333.8 139.9,335.2 152.0,335.2 152.0,336.0 158.7,336.0 160.4,337.6 178.9,336.8 194.8,337.6 197.0,352.8" fill="none" stroke="#1e1e1e" stroke-width="1.15" stroke-linejoin="round" stroke-linecap="butt"/>
<polyline points="28.2,321.2 29.9,322.1 31.6,326.3 52.6,326.3 55.1,324.6 97.9,325.1 100.4,327.1 111.3,327.4 114.7,325.4 136.6,325.4 139.1,322.9 141.6,324.6 152.0,324.6 224.2,324.6 226.8,326.3 229.3,342.2 236.0,342.6 239.3,343.4 242.7,341.4 244.4,318.7 246.4,318.7 248.6,322.9 252.8,325.4 256.1,326.3 257.8,342.2 261.2,342.2 264.6,339.7 267.9,338.0 276.3,338.0 280.0,341.4 280.0,341.0 284.2,340.5 286.4,322.0 288.4,327.5 306.9,327.5 308.6,310.2 311.1,317.8 313.6,319.5 321.2,320.3 323.7,318.3 326.2,321.2 333.8,322.8 337.9,323.7 339.1,337.1 342.1,337.1 343.8,324.5 347.2,324.5" fill="none" stroke="#1e1e1e" stroke-width="1.15" stroke-linejoin="round" stroke-linecap="butt"/>
<polyline points="61.0,353.5 76.1,354.4 81.1,356.9 88.7,356.9 91.2,353.5 93.7,348.8 111.3,348.8 113.9,344.3 115.5,342.1 118.1,337.6 124.0,337.6 129.0,338.9" fill="none" stroke="#1e1e1e" stroke-width="1.15" stroke-linejoin="round" stroke-linecap="butt"/>
<polyline points="161.2,324.6 162.9,323.4 164.1,324.1 166.3,311.2 172.2,311.2 174.3,309.0 176.4,317.0 177.5,303.6 178.9,319.6 180.6,316.2 195.7,316.2 198.2,317.9 203.2,317.9 205.8,295.5 220.0,295.5 221.2,316.2 224.2,300.2 225.9,301.1 227.6,307.8 228.4,304.4 230.9,313.7 232.6,307.0 233.8,311.2 235.2,307.8 236.8,308.6 239.3,318.7 241.9,320.4 244.1,318.7 245.7,309.5 247.8,318.7 249.4,314.5 252.8,316.2 257.8,315.0 262.9,315.0 264.6,317.0 267.1,315.0 272.9,314.5 275.5,304.8 280.0,304.8 280.0,306.0 290.1,306.0 293.4,304.4 300.2,304.4 301.8,316.1 307.7,315.3 308.9,309.4 311.1,311.9 313.6,309.9 318.6,309.9 321.2,302.7 325.4,302.7 327.0,300.2 329.9,297.3 332.1,300.2 335.4,301.0 337.9,306.9 341.3,306.9 345.5,300.2 348.9,302.7 351.4,306.5 353.9,308.6 356.4,321.2 367.4,321.5 372.4,325.4 374.9,317.0 378.3,316.6 379.9,323.7 382.5,317.8 385.0,319.5 385.8,312.8 388.4,316.1 395.9,317.0 397.6,318.6 405.1,318.6 406.8,340.5 408.0,340.5 408.0,339.6 418.1,339.6 420.6,306.9 424.8,306.5 429.0,302.3 431.5,304.4 434.0,302.7 435.7,309.4 437.4,310.7 439.9,318.3 445.0,319.0 447.0,318.3 448.3,342.1 455.0,343.0 472.7,344.3 478.6,344.3 480.2,346.7 490.3,346.7 492.0,343.0 496.2,343.0 499.6,347.2 502.1,345.5 504.6,341.3 508.8,340.5 513.0,329.9 522.2,329.9 524.8,332.9 529.0,332.9 532.3,325.7 536.0,327.0 536.0,327.5 541.9,327.5 544.4,335.4 560.4,335.4 561.5,334.1 563.7,336.6 571.3,336.6 573.8,337.6 580.5,337.6 583.0,335.4 594.8,335.4 596.5,329.2 599.8,329.2 601.9,337.6 635.1,337.6 637.6,339.1 655.3,339.1" fill="none" stroke="#1e1e1e" stroke-width="1.15" stroke-linejoin="round" stroke-linecap="butt"/>
<polyline points="408.0,320.0 411.4,320.3 413.0,319.5 419.8,319.5 423.1,316.1 428.2,314.8 434.9,314.8 437.4,319.5 439.9,320.3 458.4,320.3 461.8,318.3 480.2,318.3 483.6,316.1 487.8,316.1 490.3,314.8 503.8,314.8 506.3,310.7 510.5,310.7 513.0,312.8 529.0,312.8 531.5,314.4 536.0,314.8 536.0,314.8 539.4,314.8 541.0,319.8 542.7,319.8 544.4,318.3 552.8,318.3 555.3,316.1 558.7,314.8 634.3,314.8 636.8,310.7 655.3,310.7" fill="none" stroke="#1e1e1e" stroke-width="1.15" stroke-linejoin="round" stroke-linecap="butt"/>
<polyline points="208.3,349.9 211.6,349.9 214.2,353.6 221.7,353.6 223.4,348.6 225.9,351.9 239.3,352.8 247.8,352.8 250.3,354.8 255.3,355.3 263.7,354.4 265.4,356.1 267.1,354.4 269.6,357.0 272.1,355.3 280.0,354.4 280.0,354.9 288.4,353.9 291.8,352.3 310.2,352.7 313.6,354.4 318.6,354.4 322.0,356.0 325.4,355.2 330.4,356.9 335.4,357.2 337.1,357.7" fill="none" stroke="#1e1e1e" stroke-width="1.15" stroke-linejoin="round" stroke-linecap="butt"/>
<polyline points="365.7,361.6 404.3,361.1" fill="none" stroke="#1e1e1e" stroke-width="1.15" stroke-linejoin="round" stroke-linecap="butt"/>
<polyline points="416.4,361.5 418.1,354.8 424.8,354.8 426.5,353.4 446.6,353.4 450.0,352.2 458.4,352.6 471.8,352.2 476.9,349.7 478.6,344.3 481.9,351.4 486.9,351.4 489.5,353.1 491.1,352.2 491.1,343.8 493.7,343.3 497.0,346.4 499.6,347.2 507.1,346.4 510.5,349.4 515.5,351.4 536.0,351.4 536.0,351.4 539.4,351.7 542.7,355.1 564.6,355.1 567.1,357.3 575.5,357.3 577.2,354.4 594.8,354.4 597.3,356.1 600.7,356.1 602.4,354.4 604.9,356.1 615.0,356.1 617.5,354.4 619.1,356.1 622.5,356.1 624.2,353.1 633.4,353.1 635.1,349.7 636.8,351.4 638.5,352.2 640.5,363.1 643.5,358.9 645.2,351.4 655.3,351.4" fill="none" stroke="#1e1e1e" stroke-width="1.15" stroke-linejoin="round" stroke-linecap="butt"/>
<polyline points="28.2,363.6 31.6,363.6 33.2,362.8 38.3,362.8 40.0,352.7 49.2,352.7 50.9,354.4 53.4,352.7 57.6,352.7 59.3,346.8 61.0,353.5 76.1,354.4 78.6,360.2 83.6,360.2 86.2,362.8 96.2,362.8 98.8,360.2 152.0,360.2 156.2,361.2 159.6,364.5 161.2,363.3 162.9,365.0 167.1,365.4 169.6,367.9 173.8,365.0 176.4,367.0 192.3,367.5 194.8,366.7 202.4,367.0 205.8,369.9 215.8,369.9 218.3,368.7 223.4,368.7 225.1,362.8 239.3,362.5 241.0,361.2 243.6,362.8 249.4,360.3 252.8,362.5 256.1,362.0 257.8,359.8 259.5,362.5 265.4,362.8 267.1,359.8 268.8,362.8 277.1,362.8 280.0,359.8 286.7,359.9 290.1,361.1 310.2,361.6 312.8,359.4 314.4,361.1 320.3,362.4 324.5,361.1 326.2,361.9 328.7,361.1 330.4,361.9 332.9,360.2 335.4,359.9 337.9,361.1 340.5,368.3 342.1,361.1 345.5,361.6 349.7,364.4 353.9,366.1 355.9,367.8 358.1,365.6 359.8,366.1 362.3,368.3 364.0,362.8 365.7,361.9 376.6,361.9 379.1,365.3 381.6,366.1 385.0,364.4 387.5,363.6 392.6,364.4 396.8,367.0 408.0,367.0 408.0,367.0 410.5,363.6 427.3,363.6 430.7,367.0 433.2,365.3 434.4,364.8 435.7,371.2 437.4,372.8 441.6,373.3 446.6,373.3" fill="none" stroke="#1e1e1e" stroke-width="1.15" stroke-linejoin="round" stroke-linecap="butt"/>
<polyline points="450.0,373.3 455.0,373.3 458.4,374.5 497.0,374.5" fill="none" stroke="#1e1e1e" stroke-width="1.15" stroke-linejoin="round" stroke-linecap="butt"/>
<polyline points="523.1,373.7 536.0,373.7 537.7,373.7" fill="none" stroke="#1e1e1e" stroke-width="1.15" stroke-linejoin="round" stroke-linecap="butt"/>
<polyline points="556.2,374.5 568.8,374.5" fill="none" stroke="#1e1e1e" stroke-width="1.15" stroke-linejoin="round" stroke-linecap="butt"/>
<polyline points="583.0,374.5 585.5,373.3 599.8,373.3" fill="none" stroke="#1e1e1e" stroke-width="1.15" stroke-linejoin="round" stroke-linecap="butt"/>
<polyline points="200.0,357.0 201.4,357.0" fill="none" stroke="#1e1e1e" stroke-width="1.15" stroke-linejoin="round" stroke-linecap="butt"/>
<polyline points="203.4,357.0 204.8,357.0" fill="none" stroke="#1e1e1e" stroke-width="1.15" stroke-linejoin="round" stroke-linecap="butt"/>
<clipPath id="cw"><circle cx="671.6" cy="88.8" r="8.8"/></clipPath>
<g clip-path="url(#cw)"><rect x="662.6" y="79.8" width="18" height="18" fill="#8d8d8d"/><path d="M663.6 97.8 L664.6 94.0 Q667.6 92.0 669.8000000000001 91.39999999999999 L673.4 91.39999999999999 Q676.1 92.0 678.6 94.2 L679.6 97.8Z" fill="#222a3b"/><path d="M670.0 91.2 L671.6 97.8 L673.2 91.2Z" fill="#e9e4e0"/><path d="M671.1 92.2 L671.6 97.8 L672.1 92.2Z" fill="#b4563a"/><ellipse cx="671.6" cy="87.5" rx="3.2" ry="4.6" fill="#bd917c"/><ellipse cx="671.8000000000001" cy="88.0" rx="2.1" ry="3.2" fill="#cda28d"/><path d="M668.3000000000001 86.2 Q668.2 82.39999999999999 671.6 82.39999999999999 Q674.9 82.39999999999999 674.8000000000001 86.2 Q673.3000000000001 83.89999999999999 671.6 84.0 Q669.6 83.89999999999999 668.3000000000001 86.2Z" fill="#4e3a30"/></g>
<clipPath id="cn"><circle cx="671.75" cy="174.5" r="8.8"/></clipPath>
<g clip-path="url(#cn)"><rect x="662.75" y="165.5" width="18" height="18" fill="#2a1a14"/><rect x="662.75" y="165.5" width="7.5" height="10" fill="#5a3828"/><rect x="675.75" y="166.5" width="5" height="9" fill="#35201a"/><path d="M664.75 183.5 L665.75 178.5 L670.75 176.9 L676.35 177.3 L679.75 179.9 L680.75 183.5Z" fill="#15161a"/><path d="M671.35 176.7 L673.35 183.5 L675.55 177.1Z" fill="#e2e2e6"/><path d="M673.05 178.1 L673.45 183.5 L674.25 178.1Z" fill="#b58654"/><rect x="665.35" y="173.5" width="3.2" height="1.1" fill="#d9d2cb"/><rect x="666.25" y="173.5" width="1.3" height="7" fill="#d9d2cb"/><ellipse cx="673.05" cy="172.4" rx="3.5" ry="4.8" fill="#bf8f77"/><ellipse cx="673.25" cy="172.9" rx="2.3" ry="3.3" fill="#cda088"/><path d="M669.55 171.1 Q669.55 167.1 673.15 167.2 Q676.55 167.3 676.55 171.3 Q674.95 168.7 673.05 168.8 Q670.85 168.7 669.55 171.1Z" fill="#5c4232"/></g>
<clipPath id="ca"><circle cx="671.75" cy="208.75" r="8.8"/></clipPath>
<g clip-path="url(#ca)"><rect x="662.75" y="199.75" width="18" height="18" fill="#e6e4e2"/><ellipse cx="670.95" cy="209.75" rx="6.9" ry="8.6" fill="#b5723f"/><path d="M673.25 217.75 L674.95 213.75 L680.25 212.15 L680.75 217.75Z" fill="#2d2d31"/><path d="M669.35 212.75 L669.55 217.75 L674.15 217.75 L673.75 212.75Z" fill="#e7c7b4"/><ellipse cx="671.95" cy="209.45" rx="3.6" ry="4.4" fill="#e2b398"/><path d="M668.15 209.15 Q668.55 204.15 672.55 204.55 Q675.55 205.15 675.35 208.35 Q673.55 205.95 670.95 206.15 Q669.15 206.75 668.15 209.15Z" fill="#c98a5c"/><ellipse cx="672.05" cy="211.65" rx="1.4" ry="0.55" fill="#f6efec"/></g>
<clipPath id="ck"><circle cx="671.2" cy="361" r="8.8"/></clipPath>
<g clip-path="url(#ck)"><rect x="662.2" y="352" width="18" height="18" fill="#e9e9ea"/><rect x="662.2" y="352" width="3.6" height="18" fill="#a5703f"/><path d="M665.8000000000001 365 Q665.2 353.4 671.4000000000001 353.2 Q676.8000000000001 353.4 676.6 365Z" fill="#15120f"/><path d="M663.2 370 L664.2 365.4 L669.2 363.6 L673.8000000000001 363.6 L677.6 365.6 L679.2 370Z" fill="#1b2a3c"/><ellipse cx="671.5" cy="359.6" rx="3" ry="4" fill="#9a6848"/><path d="M669.9000000000001 363 L671.6 366.6 L673.2 363Z" fill="#8a5a3e"/><rect x="678.8000000000001" y="359.8" width="0.7" height="1.6" fill="#c8404a"/><rect x="678.5" y="361.6" width="0.7" height="2" fill="#5a78c8"/><path d="M668.2 359 Q668.6 355 671.6 355.2 Q674.6 355.4 674.7 359 Q673.2 356.6 671.4000000000001 356.6 Q669.4000000000001 356.8 668.2 359Z" fill="#15120f"/></g>
<clipPath id="cyv"><circle cx="671.6" cy="381.6" r="8.8"/></clipPath>
<g clip-path="url(#cyv)"><rect x="662.6" y="372.6" width="18" height="18" fill="#5d5a5f"/><path d="M664.6 390.6 L666.1 386.6 L670.6 384.8 L674.6 384.8 L678.1 387.0 L679.1 390.6Z" fill="#26252a"/><ellipse cx="671.9" cy="380.70000000000005" rx="3.2" ry="4.3" fill="#d3a18a"/><path d="M671.0 384.20000000000005 L672.2 388.0 L673.6 384.40000000000003Z" fill="#cfa08a"/><path d="M668.5 380.0 Q668.2 375.6 672.0 375.70000000000005 Q675.6 375.8 675.2 380.0 Q674.0 377.5 671.9 377.6 Q669.8000000000001 377.6 668.5 380.0Z" fill="#6e4a37"/></g>
<g><path d="M665.1 240.3 L669.1 239.9 L670.9 242.70000000000002 L670.6999999999999 246.5 L663.1 246.9 L663.6 242.70000000000002Z" fill="#c6d9f6"/><path d="M663.3 246.8 Q664.9 243.6 668.4 243.6 Q667.6999999999999 246.3 663.3 246.8Z" fill="#4b983a"/><circle cx="669.6999999999999" cy="246.0" r="0.7" fill="#5aa046"/><path d="M668.3 239.0 L672.9 238.70000000000002" stroke="#dedede" stroke-width="0.6"/><path d="M680.5 244.9 v3.2" stroke="#d6d6d6" stroke-width="0.6"/><path d="M668.9 256.8 h4.4" stroke="#dedede" stroke-width="0.6"/><path d="M662.1 246.3 v3" stroke="#e6e6e6" stroke-width="0.6"/></g>
<g><path d="M665.1 303.29999999999995 L669.1 302.9 L670.9 305.7 L670.6999999999999 309.5 L663.1 309.9 L663.6 305.7Z" fill="#c6d9f6"/><path d="M663.3 309.79999999999995 Q664.9 306.59999999999997 668.4 306.59999999999997 Q667.6999999999999 309.29999999999995 663.3 309.79999999999995Z" fill="#4b983a"/><circle cx="669.6999999999999" cy="309.0" r="0.7" fill="#5aa046"/><path d="M668.3 302.0 L672.9 301.7" stroke="#dedede" stroke-width="0.6"/><path d="M680.5 307.9 v3.2" stroke="#d6d6d6" stroke-width="0.6"/><path d="M668.9 319.79999999999995 h4.4" stroke="#dedede" stroke-width="0.6"/><path d="M662.1 309.29999999999995 v3" stroke="#e6e6e6" stroke-width="0.6"/></g>
<g><path d="M665.1 331.19999999999993 L669.1 330.79999999999995 L670.9 333.59999999999997 L670.6999999999999 337.4 L663.1 337.79999999999995 L663.6 333.59999999999997Z" fill="#c6d9f6"/><path d="M663.3 337.69999999999993 Q664.9 334.49999999999994 668.4 334.49999999999994 Q667.6999999999999 337.19999999999993 663.3 337.69999999999993Z" fill="#4b983a"/><circle cx="669.6999999999999" cy="336.9" r="0.7" fill="#5aa046"/><path d="M668.3 329.9 L672.9 329.59999999999997" stroke="#dedede" stroke-width="0.6"/><path d="M680.5 335.79999999999995 v3.2" stroke="#d6d6d6" stroke-width="0.6"/><path d="M668.9 347.69999999999993 h4.4" stroke="#dedede" stroke-width="0.6"/><path d="M662.1 337.19999999999993 v3" stroke="#e6e6e6" stroke-width="0.6"/></g>
</svg>
<div class="lg" style="top:83px">Wes Streeting <span style="color:#d9434f">19%</span></div><div class="lg" style="top:169px">Nigel Farage <span style="color:#5bbdd8">14%</span></div><div class="lg" style="top:204px">Angela Rayner <span style="color:#f587f3">13%</span></div><div class="lg" style="top:242px">Andy Burnham <span style="color:#222">10%</span></div><div class="lg" style="top:305px">Shabana Mahmood <span style="color:#222">7%</span></div><div class="lg" style="top:333px">Ed Miliband <span style="color:#222">5%</span></div><div class="lg" style="top:355px">Kemi Badenoch <span style="color:#2d4f91">4%</span></div><div class="lg" style="top:376px">Yvette Cooper <span style="color:#222">4%</span></div>
<div id="tz">All times are in your local time zone</div>
</div>
<div style="position:absolute;left:0;top:469px;width:768px;height:1px;background:rgba(52,54,60,0.45)"></div><div id="foot"><div class="fc" style="left:42.8px"><div class="fl">7 DAY VOLUME</div><div class="fv">£5k</div></div><div class="fc" style="left:183.8px"><div class="fl">24 HOUR VOLUME</div><div class="fv">&lt;£1k</div></div><div class="fc" style="left:324.6px"><div class="fl">DAYS TO GO</div><div class="fv">1332</div></div><div class="fc" style="left:465.70000000000005px"><div class="fl">TRACKING SINCE</div><div class="fv">2024-08-04</div></div><div class="fc" style="left:606.5px"><div class="fl">LAST UPDATE</div><div class="fv">4 mins</div></div></div>
<div id="lb"></div>
</body></html>
